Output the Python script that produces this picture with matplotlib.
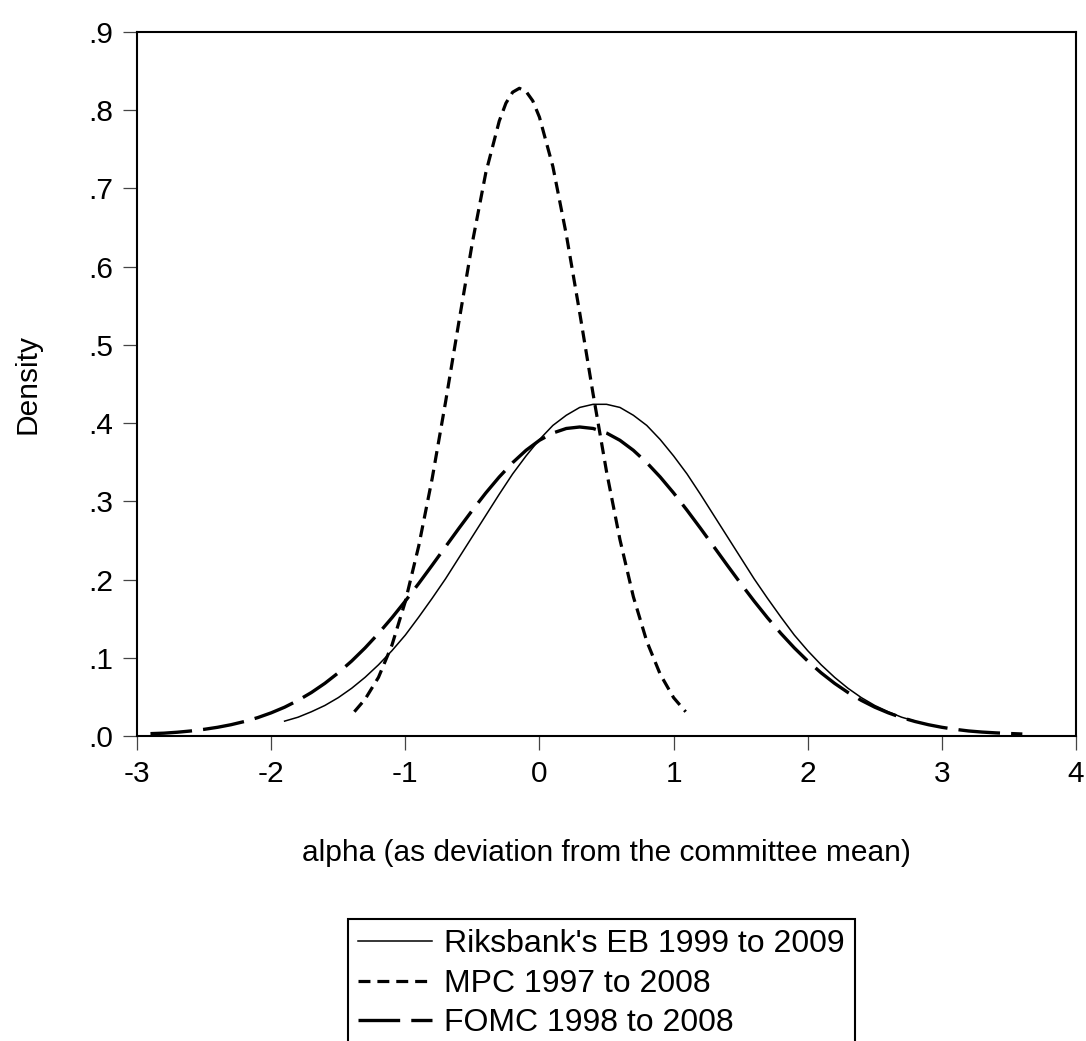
import numpy as np
import matplotlib.pyplot as plt

plt.rcParams['font.family'] = ['Liberation Sans', 'DejaVu Sans']
plt.rcParams['lines.scale_dashes'] = False

rb_start = -1.9
rb_y = [0.019, 0.024, 0.031, 0.039, 0.049, 0.061, 0.075, 0.091, 0.109, 0.129,
        0.152, 0.176, 0.201, 0.228, 0.255, 0.282, 0.309, 0.335, 0.358, 0.379,
        0.397, 0.410, 0.420, 0.424, 0.424, 0.420, 0.410, 0.397, 0.379, 0.358,
        0.335, 0.309, 0.282, 0.255, 0.228, 0.201, 0.176, 0.152, 0.129, 0.109,
        0.091, 0.075, 0.061, 0.049, 0.039, 0.031, 0.024, 0.019]

mpc_x = [-1.38, -1.3, -1.2, -1.1, -1.0, -0.9, -0.8, -0.7, -0.6, -0.5, -0.4, -0.3,
         -0.25, -0.2, -0.15, -0.1, -0.05, 0.0, 0.1, 0.2, 0.3, 0.4, 0.5, 0.6, 0.7,
         0.8, 0.9, 1.0, 1.09]
mpc_y = [0.031, 0.047, 0.075, 0.116, 0.172, 0.243, 0.329, 0.427, 0.530, 0.631,
         0.720, 0.786, 0.809, 0.823, 0.828, 0.824, 0.812, 0.791, 0.728, 0.641,
         0.541, 0.437, 0.338, 0.251, 0.178, 0.121, 0.079, 0.049, 0.031]

fomc_start = -2.9
fomc_y = [0.003, 0.0036, 0.0048, 0.0064, 0.0085, 0.0111, 0.0144, 0.0185, 0.0235,
          0.0296, 0.0368, 0.0455, 0.0556, 0.0673, 0.0807, 0.0958, 0.1126, 0.1311,
          0.1511, 0.1725, 0.1950, 0.2183, 0.2420, 0.2656, 0.2886, 0.3107, 0.3311,
          0.3494, 0.3652, 0.3780, 0.3873, 0.3931, 0.395, 0.3931, 0.3873, 0.3780,
          0.3652, 0.3494, 0.3311, 0.3107, 0.2886, 0.2656, 0.2420, 0.2183, 0.1950,
          0.1725, 0.1511, 0.1311, 0.1126, 0.0958, 0.0807, 0.0673, 0.0556, 0.0455,
          0.0368, 0.0296, 0.0235, 0.0185, 0.0144, 0.0111, 0.0085, 0.0064, 0.0050,
          0.0040, 0.0032, 0.0025]

labels = ["Riksbank's EB 1999 to 2009", "MPC 1997 to 2008", "FOMC 1998 to 2008"]
xticks = [-3, -2, -1, 0, 1, 2, 3, 4]
yticks = [0.0, 0.1, 0.2, 0.3, 0.4, 0.5, 0.6, 0.7, 0.8, 0.9]
ytick_labels = [".0", ".1", ".2", ".3", ".4", ".5", ".6", ".7", ".8", ".9"]

rb_x = rb_start + 0.1 * np.arange(len(rb_y))
fomc_x = fomc_start + 0.1 * np.arange(len(fomc_y))

fig = plt.figure(figsize=(10.86, 10.41), dpi=100)
ax = fig.add_axes([0.1262, 0.2930, 0.8646, 0.6763])

ax.plot(rb_x, rb_y, color='black', lw=1.1, label=labels[0])
ax.plot(mpc_x, mpc_y, color='black', lw=2.3, dashes=(8.6, 5.0), label=labels[1])
ax.plot(fomc_x, fomc_y, color='black', lw=2.4, dashes=(30, 8), label=labels[2])

ax.set_xlim(-3, 4)
ax.set_ylim(0, 0.9)
ax.set_xticks(xticks)
ax.set_xticklabels([str(t) for t in xticks])
ax.set_yticks(yticks)
ax.set_yticklabels(ytick_labels)
ax.tick_params(axis='both', direction='out', length=10, width=0.9, color='#444444',
               labelsize=21.5, pad=7)
for s in ax.spines.values():
    s.set_linewidth(1.5)
    s.set_color('black')

ax.set_xlabel("alpha (as deviation from the committee mean)", fontsize=21.5)
ax.xaxis.label.set_verticalalignment('center')
ax.xaxis.set_label_coords(0.5, -(853 - 736) / 704)
ax.set_ylabel("Density", fontsize=21.5)
ax.yaxis.label.set_verticalalignment('center')
ax.yaxis.set_label_coords(-(137 - 27) / 939, 0.5)

# legend sits low enough that the figure edge cuts its bottom border
leg = fig.legend(loc='upper left', bbox_to_anchor=(348 / 1086, 1 - 919 / 1041),
                 borderaxespad=0, fontsize=23, frameon=True, fancybox=False,
                 framealpha=1, edgecolor='black', handlelength=2.3,
                 handletextpad=0.4, labelspacing=0.3, borderpad=0.32)
leg.get_frame().set_linewidth(1.5)

fig.savefig("out.png", dpi=100)
